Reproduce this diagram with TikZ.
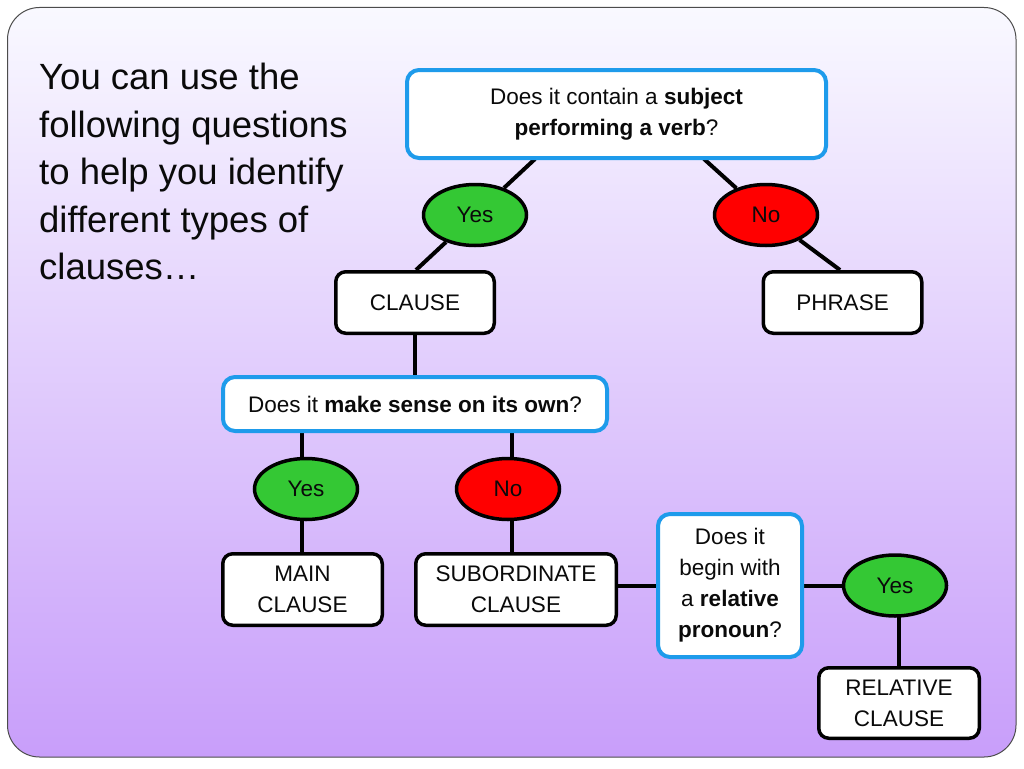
\documentclass[tikz,border=0pt]{standalone}
\usepackage{fontspec}
\setmainfont{Liberation Sans}
\usetikzlibrary{shapes.geometric,backgrounds}
\definecolor{qblue}{RGB}{30,155,235}
\definecolor{ygreen}{RGB}{52,200,52}
\definecolor{nred}{RGB}{255,0,0}
\definecolor{ink}{RGB}{10,10,10}
\definecolor{bgtop}{RGB}{249,249,255}
\definecolor{bgmid}{RGB}{214,214,250}
\definecolor{bgbot}{RGB}{200,158,250}
\tikzset{
  qbox/.style={draw=qblue, line width=4pt, fill=white, rounded corners=12pt, inner sep=0pt, align=center, text=ink, font=\fontsize{22.5}{31}\selectfont},
  abox/.style={draw=black, line width=3.5pt, fill=white, rounded corners=10pt, inner sep=0pt, align=center, text=ink, font=\fontsize{22.5}{31}\selectfont},
  yesnode/.style={ellipse, draw=black, line width=3.5pt, fill=ygreen, inner sep=0pt, minimum width=103pt, minimum height=61pt, text=ink, font=\fontsize{22.5}{26}\selectfont},
  nonode/.style={yesnode, fill=nred},
  link/.style={draw=black, line width=4pt},
}
\begin{document}
\begin{tikzpicture}[x=1pt,y=-1pt]
\useasboundingbox (0,0) rectangle (1024,768);
% nodes
\node[anchor=north west, align=left, inner sep=0pt, text=ink, font=\fontsize{36.5}{47.5}\selectfont] (head) at (39,63)
  {You can use the\\following questions\\to help you identify\\different types of\\clauses\ldots};
\node[qbox, minimum width=419pt, minimum height=88pt] (q1) at (616.5,114)
  {Does it contain a \textbf{subject}\\\textbf{performing a verb}?};
\node[yesnode] (yes1) at (475,215) {Yes};
\node[nonode] (no1) at (766,215) {No};
\node[abox, minimum width=158.5pt, minimum height=61.5pt] (clause) at (415,302.5) {CLAUSE};
\node[abox, minimum width=158.5pt, minimum height=61.5pt] (phrase) at (842.5,302.5) {PHRASE};
\node[qbox, minimum width=384pt, minimum height=54pt] (q2) at (415,404)
  {Does it \textbf{make sense on its own}?};
\node[yesnode] (yes2) at (306,489) {Yes};
\node[nonode] (no2) at (508,489) {No};
\node[abox, minimum width=159.5pt, minimum height=71.5pt] (main) at (302.5,589.5) {MAIN\\CLAUSE};
\node[abox, minimum width=200.5pt, minimum height=71.5pt] (sub) at (516,589.5) {SUBORDINATE\\CLAUSE};
\node[qbox, minimum width=144pt, minimum height=143pt] (q3) at (730,585.5)
  {Does it\\begin with\\a \textbf{relative}\\\textbf{pronoun}?};
\node[yesnode] (yes3) at (895,585.5) {Yes};
\node[abox, minimum width=160.5pt, minimum height=70.5pt] (rel) at (899,703) {RELATIVE\\CLAUSE};
% connector end points
\coordinate (c1) at (535,159);
\coordinate (c2) at (704,159);
\coordinate (c3) at (416,270);
\coordinate (c4) at (840,270);
\coordinate (c5) at (302,433);
\coordinate (c6) at (512,433);
\coordinate (c7) at (512,553);
\begin{scope}[on background layer]
  \path[draw=black!70, line width=1pt, rounded corners=32pt, top color=bgtop, middle color=bgmid, bottom color=bgbot, shading angle=0]
    (7.5,7.5) rectangle (1016,757);
  \draw[link] (c1) -- (yes1);
  \draw[link] (c2) -- (no1);
  \draw[link] (yes1) -- (c3);
  \draw[link] (no1) -- (c4);
  \draw[link] (clause) -- (q2);
  \draw[link] (c5) -- (main.north -| c5);
  \draw[link] (c6) -- (c7);
  \draw[link] (sub.east |- q3) -- (q3);
  \draw[link] (q3) -- (yes3);
  \draw[link] (rel |- yes3) -- (rel);
\end{scope}
\end{tikzpicture}
\end{document}
